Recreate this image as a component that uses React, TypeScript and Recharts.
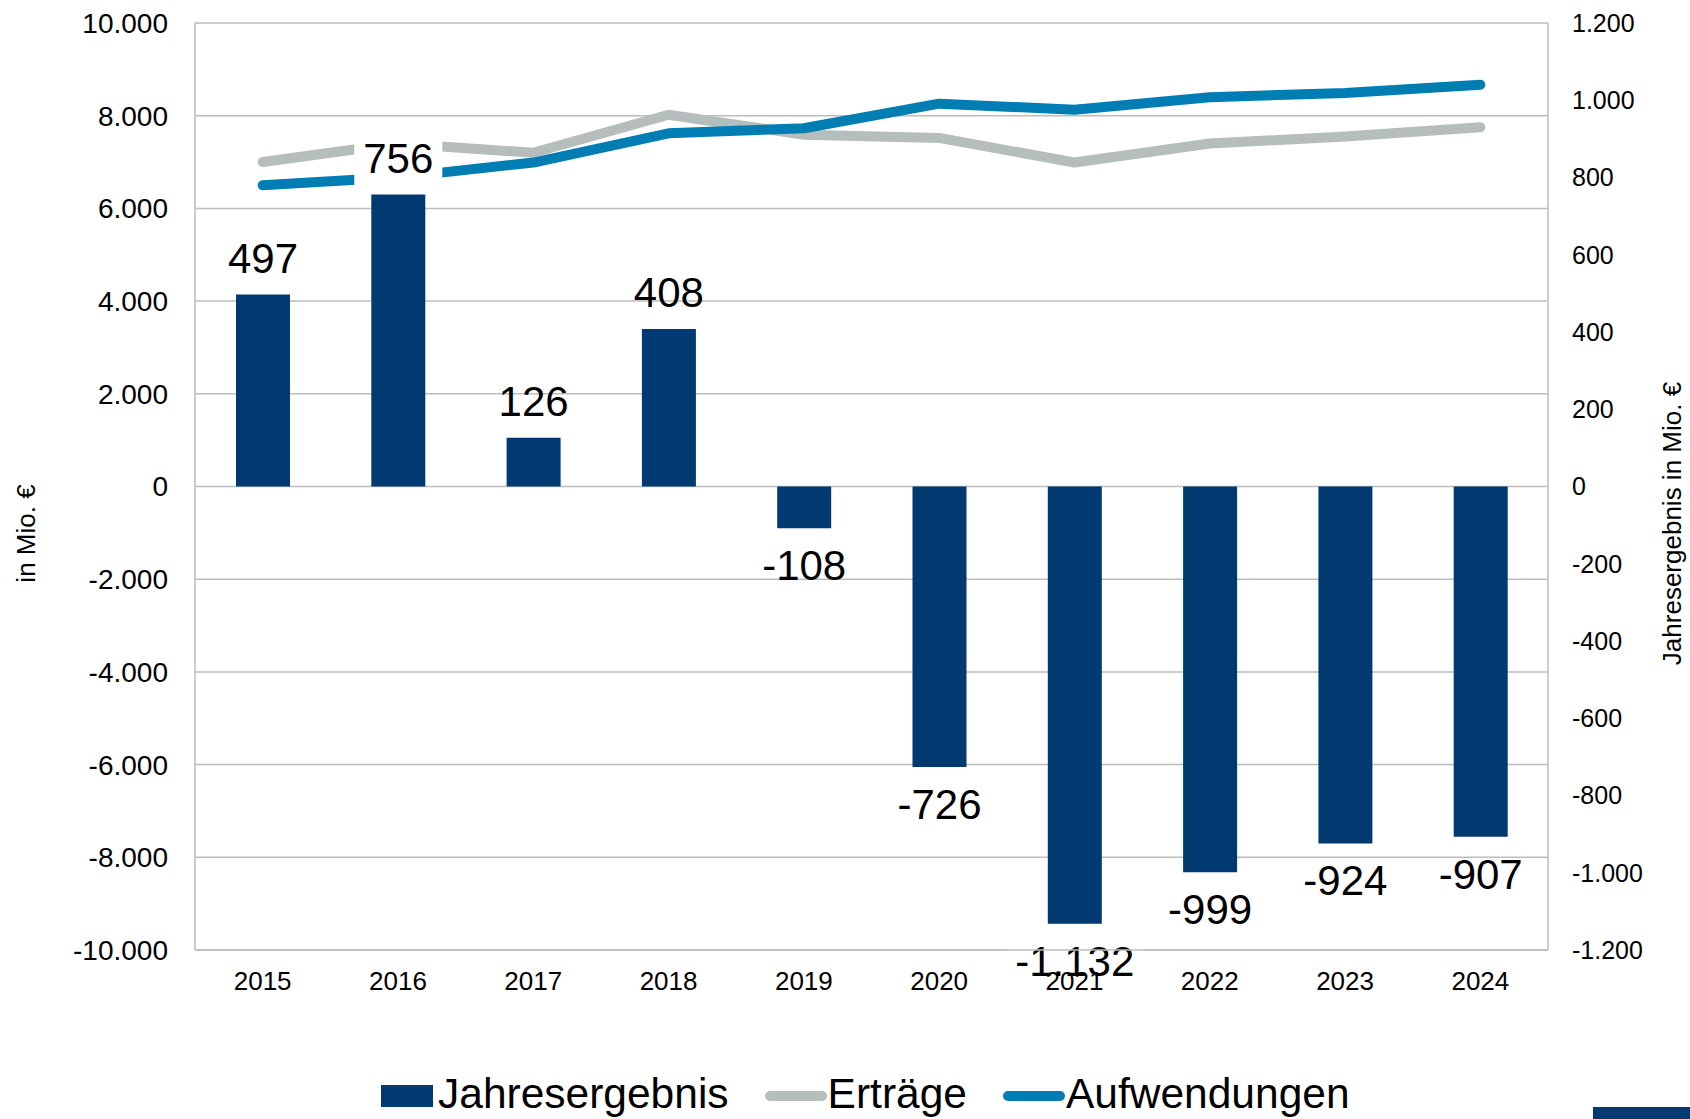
import React from 'react';
import { ComposedChart, Bar, Line, XAxis, YAxis, CartesianGrid, Legend, LabelList } from 'recharts';

const years = ['2015', '2016', '2017', '2018', '2019', '2020', '2021', '2022', '2023', '2024'];
const jahresergebnis = [497, 756, 126, 408, -108, -726, -1132, -999, -924, -907];
const ertraege = [7000, 7400, 7200, 8020, 7590, 7520, 6990, 7400, 7550, 7750];
const aufwendungen = [6500, 6670, 6990, 7620, 7730, 8260, 8130, 8400, 8490, 8670];

const leftTicks = [-10000, -8000, -6000, -4000, -2000, 0, 2000, 4000, 6000, 8000, 10000];
const rightTicks = [-1200, -1000, -800, -600, -400, -200, 0, 200, 400, 600, 800, 1000, 1200];

// labels that sit on a white box in the original (they cross a line / the axis)
const boxedLabels = ['2016', '2021'];

const data = years.map((year, i) => ({
  year,
  jahresergebnis: jahresergebnis[i],
  ertraege: ertraege[i],
  aufwendungen: aufwendungen[i],
}));

const FONT = '"Liberation Sans", Arial, sans-serif';
const barColor = '#003a70';
const grayColor = '#b5bdbd';
const blueColor = '#007db3';
const gridColor = '#bdbdbd';

// German number format: 1.200, -1.132
const fmt = (v: number) => {
  const s = Math.abs(v).toString().replace(/\B(?=(\d{3})+(?!\d))/g, '.');
  return v < 0 ? '-' + s : s;
};

const charW: Record<string, number> = { '-': 0.333, '.': 0.278 };
const textWidth = (s: string, size: number) =>
  s.split('').reduce((acc, c) => acc + (charW[c] ?? 0.556), 0) * size;

const BarValueLabel: React.FC<any> = ({ x, y, width, height, value, index }) => {
  const top = Math.min(y, y + height);
  const bottom = Math.max(y, y + height);
  const cx = x + width / 2;
  const baseline = value >= 0 ? top - 21.5 : bottom + 52;
  const text = fmt(value);
  const w = textWidth(text, 42);
  const boxed = boxedLabels.includes(years[index]);
  return (
    <g>
      {boxed && <rect x={cx - w / 2 - 9} y={baseline - 36} width={w + 18} height={48} fill="#ffffff" />}
      <text x={cx} y={baseline} textAnchor="middle" fontSize={42} fontFamily={FONT} fill="#000">
        {text}
      </text>
    </g>
  );
};

const LeftTitle: React.FC<any> = ({ viewBox }) => {
  const cx = viewBox.x + 26;
  const cy = viewBox.y + viewBox.height / 2 + 47;
  return (
    <text x={cx} y={cy} transform={`rotate(-90 ${cx} ${cy})`} textAnchor="middle" dominantBaseline="central"
      fontSize={26} fontFamily={FONT} fill="#000">
      in Mio. €
    </text>
  );
};

const RightTitle: React.FC<any> = ({ viewBox }) => {
  const cx = viewBox.x + 124;
  const cy = viewBox.y + viewBox.height / 2 + 37;
  return (
    <text x={cx} y={cy} transform={`rotate(-90 ${cx} ${cy})`} textAnchor="middle" dominantBaseline="central"
      fontSize={26} fontFamily={FONT} fill="#000">
      Jahresergebnis in Mio. €
    </text>
  );
};

const legendItems = [
  { name: 'Jahresergebnis', type: 'bar', color: barColor },
  { name: 'Erträge', type: 'line', color: grayColor },
  { name: 'Aufwendungen', type: 'line', color: blueColor },
];

const CustomLegend: React.FC = () => (
  <div style={{ display: 'flex', alignItems: 'center', paddingLeft: 381, fontFamily: FONT, fontSize: 42.5, lineHeight: '42px', color: '#000' }}>
    {legendItems.map((item, i) => (
      <div key={item.name} style={{ display: 'flex', alignItems: 'center', marginRight: i < 2 ? 36 : 0 }}>
        {item.type === 'bar' ? (
          <span style={{ display: 'inline-block', width: 52, height: 22, background: item.color, marginRight: 5, marginTop: 4 }} />
        ) : (
          <span style={{ display: 'inline-block', width: 62, height: 10, borderRadius: 5, background: item.color, marginRight: 1, marginTop: 4 }} />
        )}
        <span>{item.name}</span>
      </div>
    ))}
  </div>
);

export default function App() {
  const xAxisExtra: any = { zIndex: 2500 };
  return (
    <div style={{ position: 'absolute', left: 0, top: 0, width: 1690, height: 1119, background: '#fff' }}>
      <ComposedChart width={1690} height={1119} data={data} margin={{ top: 23, right: 0, left: 0, bottom: 109 }}>
        <CartesianGrid yAxisId="left" vertical={false} stroke={gridColor} strokeWidth={1.5} />
        <XAxis
          dataKey="year"
          height={60}
          tickLine={false}
          axisLine={{ stroke: gridColor, strokeWidth: 1.5 }}
          tickMargin={16}
          tick={{ fill: '#000', fontSize: 26, fontFamily: FONT }}
          interval={0}
          {...xAxisExtra}
        />
        <YAxis
          yAxisId="left"
          orientation="left"
          width={195}
          domain={[-10000, 10000]}
          ticks={leftTicks}
          tickFormatter={fmt}
          tickLine={false}
          axisLine={{ stroke: gridColor, strokeWidth: 1.5 }}
          tickMargin={21}
          tick={{ fill: '#000', fontSize: 28, fontFamily: FONT }}
          interval={0}
          label={<LeftTitle />}
        />
        <YAxis
          yAxisId="right"
          orientation="right"
          width={142}
          domain={[-1200, 1200]}
          ticks={rightTicks}
          tickFormatter={fmt}
          tickLine={false}
          axisLine={{ stroke: gridColor, strokeWidth: 1.5 }}
          tickMargin={18}
          tick={{ fill: '#000', fontSize: 25, fontFamily: FONT }}
          interval={0}
          label={<RightTitle />}
        />
        <Legend verticalAlign="middle" align="center" layout="horizontal" content={<CustomLegend />}
          wrapperStyle={{ top: 1073, left: 0, width: 1690 }} />
        <Line yAxisId="left" dataKey="ertraege" name="Erträge" stroke={grayColor} strokeWidth={10}
          strokeLinecap="round" strokeLinejoin="round" dot={false} activeDot={false} isAnimationActive={false} />
        <Line yAxisId="left" dataKey="aufwendungen" name="Aufwendungen" stroke={blueColor} strokeWidth={10}
          strokeLinecap="round" strokeLinejoin="round" dot={false} activeDot={false} isAnimationActive={false} />
        <Bar yAxisId="right" dataKey="jahresergebnis" name="Jahresergebnis" fill={barColor} barSize={54} isAnimationActive={false}>
          <LabelList dataKey="jahresergebnis" content={<BarValueLabel />} />
        </Bar>
      </ComposedChart>
      <div style={{ position: 'absolute', left: 1593, top: 1107, width: 97, height: 12, background: barColor }} />
    </div>
  );
}
